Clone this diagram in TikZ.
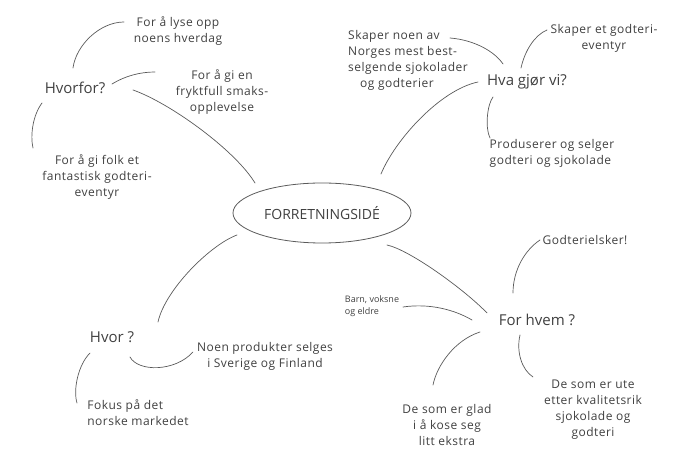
\documentclass[tikz,border=0pt]{standalone}
\usepackage{fontspec}
\setmainfont{Open Sans}
\definecolor{ink}{HTML}{404040}
\definecolor{pen}{HTML}{5A5A5A}
\tikzset{
  every node/.style={text=ink, inner sep=0pt},
  note/.style={font=\fontsize{12}{16}\selectfont\addfontfeature{LetterSpace=4}, align=center},
  noteleft/.style={font=\fontsize{12}{16}\selectfont\addfontfeature{LetterSpace=4}, align=left},
  tiny/.style={font=\fontsize{9}{12}\selectfont, align=left},
  question/.style={font=\fontsize{15}{18}\selectfont},
  hub/.style={ellipse, draw=pen, line width=0.8pt, minimum width=178pt, minimum height=60pt,
              font=\fontsize{14}{16}\selectfont},
  link/.style={draw=pen, line width=0.7pt, line cap=round}
}
\usetikzlibrary{shapes.geometric}
\begin{document}
\begin{tikzpicture}[x=1pt, y=-1pt]
\useasboundingbox (0,0) rectangle (678,454);

% central idea
\node[hub] (hub) at (322,213) {FORRETNINGSIDÉ};

% why
\node[question] (why) at (75,88) {Hvorfor?};
\node[note] (w1) at (178,31) {For å lyse opp\\noens hverdag};
\node[note] (w2) at (222,92) {For å gi en\\fryktfull smaks-\\opplevelse};
\node[note] (w3) at (97,177) {For å gi folk et\\fantastisk godteri-\\eventyr};

% what
\node[question] (what) at (527,82) {Hva gjør vi?};
\node[noteleft] (d1) at (408,60) {Skaper noen av\\Norges mest best-\\selgende sjokolader\\\hspace{12pt}og godterier};
\node[note] (d2) at (604,38) {Skaper et godteri-\\eventyr};
\node[noteleft] (d3) at (552,153) {Produserer og selger\\godteri og sjokolade};

% where
\node[question] (where) at (112,337) {Hvor ?};
\node[note] (p1) at (265,356) {Noen produkter selges\\i Sverige og Finland};
\node[noteleft] (p2) at (138,413) {Fokus på det\\norske markedet};

% for whom
\node[question] (who) at (537,320) {For hvem ?};
\node[note] (h1) at (585,240) {Godterielsker!};
\node[tiny] (h2) at (372,306) {Barn, voksne\\og eldre};
\node[note] (h3) at (447,425) {De som er glad\\i å kose seg\\litt ekstra};
\node[note] (h4) at (593,410) {De som er ute\\etter kvalitetsrik\\sjokolade og\\godteri};

% branches from the hub
\draw[link] ([shift={(58,2)}]why.center) .. controls (170,103) and (235,150) .. ([shift={(-67,-30)}]hub.center);
\draw[link] ([shift={(59,-39)}]hub.center) .. controls (395,140) and (440,90) .. ([shift={(-49,0)}]what.center);
\draw[link] ([shift={(-85,22)}]hub.center) .. controls (210,245) and (165,290) .. ([shift={(46,-15)}]where.center);
\draw[link] ([shift={(65,32)}]hub.center) .. controls (410,250) and (465,290) .. ([shift={(-50,-7)}]who.center);

% why answers
\draw[link] ([shift={(-2,-20)}]why.center) .. controls (76,45) and (100,22) .. ([shift={(-54,-9)}]w1.center);
\draw[link] ([shift={(37,-4)}]why.center) .. controls (125,76) and (140,72) .. ([shift={(-67,-20)}]w2.center);
\draw[link] ([shift={(-33,15)}]why.center) .. controls (33,115) and (30,135) .. ([shift={(-64,-29)}]w3.center);

% what answers
\draw[link] ([shift={(-24,-18)}]what.center) .. controls (495,52) and (475,40) .. ([shift={(42,-22)}]d1.center);
\draw[link] ([shift={(-6,-14)}]what.center) .. controls (525,50) and (535,35) .. ([shift={(-57,-8)}]d2.center);
\draw[link] ([shift={(-34,15)}]what.center) .. controls (487,105) and (485,128) .. ([shift={(-62,-15)}]d3.center);

% where answers
\draw[link] ([shift={(18,20)}]where.center) .. controls (138,372) and (175,372) .. ([shift={(-72,-4)}]p1.center);
\draw[link] ([shift={(-22,16)}]where.center) .. controls (78,365) and (73,390) .. ([shift={(-61,-10)}]p2.center);

% for-whom answers
\draw[link] ([shift={(-24,-27)}]who.center) .. controls (513,270) and (525,250) .. ([shift={(-45,0)}]h1.center);
\draw[link] ([shift={(31,1)}]h2.center) .. controls (430,303) and (455,310) .. ([shift={(-65,0)}]who.center);
\draw[link] ([shift={(-57,12)}]who.center) .. controls (455,340) and (437,365) .. ([shift={(-14,-40)}]h3.center);
\draw[link] ([shift={(-17,15)}]who.center) .. controls (516,352) and (522,370) .. ([shift={(-60,-33)}]h4.center);
\end{tikzpicture}
\end{document}
